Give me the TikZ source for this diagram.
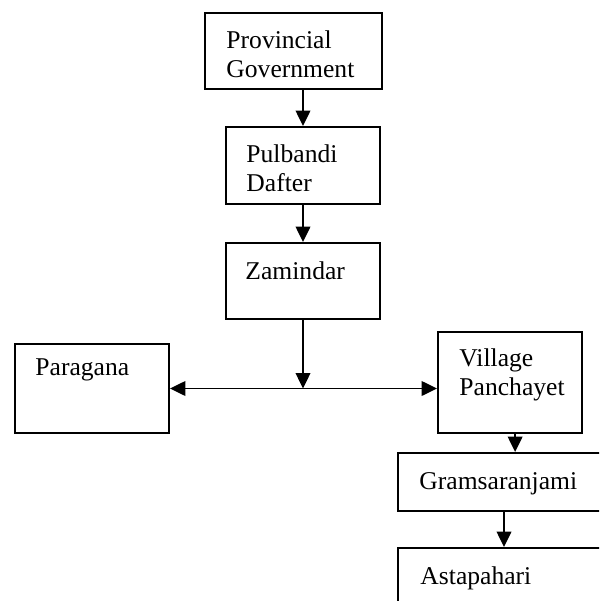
\documentclass[tikz,border=0pt]{standalone}
\usepackage{fontspec}
\setmainfont{Liberation Serif}
\usetikzlibrary{positioning, fit, arrows.meta}

\tikzset{
  box/.style={draw, line width=0.9pt, inner sep=0pt},
  tag/.style={anchor=north west, inner sep=0pt, align=left,
    font=\fontsize{12}{13.8}\selectfont},
  arr/.style={line width=0.9pt, >={Triangle[length=7.2pt, width=6.8pt]}, ->}
}

\begin{document}
\begin{tikzpicture}[x=0.469pt, y=-0.469pt]

            \useasboundingbox (0, 0) rectangle (599, 601);
            \clip (0, 0) rectangle (599, 601);

            % boxes
            \node[box, fit={(205, 13) (382, 89)}] (prov) {};
            \node[box, fit={(226, 127) (380, 204)}] (pul) {};
            \node[box, fit={(226, 243) (380, 319)}] (zam) {};
            \node[box, fit={(15, 344) (169, 433)}] (par) {};
            \node[box, fit={(438, 332) (582, 433)}] (vil) {};
            \node[box, fit={(398, 453) (610, 511)}] (gram) {};
            \node[box, fit={(398, 548) (610, 650)}] (asta) {};

            % texts
            \node[tag] (prov-t) at ([shift={(22, 18)}]prov.north west) {Provincial\\Government};
            \node[tag] (pul-t) at ([shift={(21, 18)}]pul.north west) {Pulbandi\\Dafter};
            \node[tag] (zam-t) at ([shift={(20, 19)}]zam.north west) {Zamindar};
            \node[tag] (par-t) at ([shift={(21, 15)}]par.north west) {Paragana};
            \node[tag] (vil-t) at ([shift={(22, 17)}]vil.north west) {Village\\Panchayet};
            \node[tag] (gram-t) at ([shift={(22, 20)}]gram.north west) {Gramsaranjami};
            \node[tag] (asta-t) at ([shift={(23, 19)}]asta.north west) {Astapahari};

            % arrows
            \draw[arr] (pul.north |- prov.south) -- (pul.north);
            \draw[arr] (pul.south) -- (zam.north);
            \coordinate (hub) at (zam.south |- par.east);
            \draw[arr] (zam.south) -- (hub);
            \draw[arr, <->] (par.east) -- (vil.west |- par.east);
            \draw[arr] ([xshift=2.4pt]vil.south) -- ([xshift=2.4pt]vil.south |- gram.north);
            \draw[arr] (gram.south) -- (asta.north);
        \end{tikzpicture}
\end{document}
